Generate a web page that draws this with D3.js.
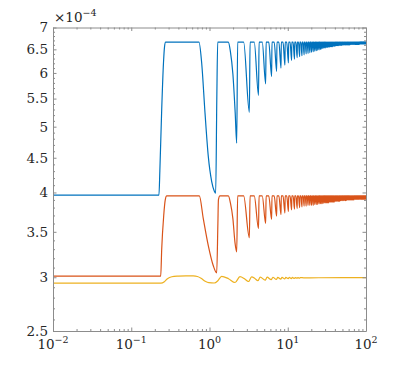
<!DOCTYPE html>
<html>
<head>
<meta charset="utf-8">
<script src="https://cdn.jsdelivr.net/npm/d3@7"></script>
<style>
  body { margin: 0; background: #fff; }
  svg text { font-family: "DejaVu Serif", "Liberation Serif", serif; }
</style>
</head>
<body>
<svg id="chart" width="405" height="373"></svg>
<script>
"use strict";

// tick labels
const xTicks = [1e-2, 1e-1, 1e0, 1e1, 1e2];
const xTickExp = ["\u22122", "\u22121", "0", "1", "2"];
const yTicks = [2.5, 3, 3.5, 4, 4.5, 5, 5.5, 6, 6.5, 7];
const yTickLabels = ["2.5", "3", "3.5", "4", "4.5", "5", "5.5", "6", "6.5", "7"];

const blueHead = [
  [0.01, 3.965], [0.226, 3.965], [0.232, 4.3], [0.245, 5.3], [0.258, 6.2], [0.266, 6.55], [0.275, 6.66],
  [0.734, 6.66], [0.795, 6.2], [0.876, 5.24], [0.965, 4.52], [1.067, 4.15], [1.15, 4.02], [1.2, 3.99],
  [1.24, 5.5], [1.273, 6.66], [1.739, 6.66], [1.85, 6.45], [1.99, 5.98], [2.13, 5.24], [2.227, 4.73],
  [2.29, 6.66]
];
const orangeHead = [
  [0.01, 3.012], [0.238, 3.012], [0.245, 3.3], [0.26, 3.7], [0.272, 3.9], [0.284, 3.953],
  [0.741, 3.953], [0.833, 3.66], [0.965, 3.34], [1.118, 3.12], [1.236, 3.045],
  [1.28, 3.6], [1.30, 3.9], [1.36, 3.953], [1.74, 3.953], [1.85, 3.86], [1.99, 3.66], [2.12, 3.37],
  [2.227, 3.27], [2.29, 3.953]
];
const yellowLine = [
  [0.01, 2.94], [0.24, 2.94], [0.265, 2.955], [0.29, 2.985], [0.33, 3.005], [0.4, 3.012], [0.5, 3.015],
  [0.62, 3.014], [0.7, 3.008], [0.78, 2.99], [0.88, 2.96], [0.98, 2.945], [1.15, 2.942], [1.28, 2.965],
  [1.43, 3.01], [1.75, 2.985], [2.12, 2.947], [2.45, 3.006], [2.8, 2.985], [3.15, 2.957], [3.45, 3.004],
  [3.8, 2.988], [4.15, 2.965], [4.45, 3.002], [5.15, 2.970], [5.45, 3.001], [6.15, 2.975], [6.45, 3.0],
  [7.15, 2.978], [7.45, 2.999], [8.15, 2.981], [8.45, 2.999], [9.15, 2.983], [9.45, 2.998],
  [10.15, 2.985], [10.45, 2.998], [11.15, 2.987], [11.45, 2.998], [12.15, 2.988], [12.45, 2.997],
  [13.15, 2.990], [13.45, 2.997], [14.15, 2.991], [14.45, 2.997], [16, 2.994], [25, 2.995], [100, 2.997]
];

// later dips (from the third one on): where they sit and how deep they go
const dipX = [
  3.23, 4.23, 5.22, 6.22, 7.21, 8.2, 9.2, 10.2, 11.2, 12.2, 13.2, 14.2, 15.2, 16.2, 17.2, 18.2, 19.2, 20.2,
  21.2, 22.2, 23.2, 24.2, 25.2, 26.2, 27.2, 28.2, 29.2, 30.2, 31.2, 32.2, 33.2, 34.2, 35.2, 36.2, 37.2, 38.2,
  39.2, 40.2, 41.2, 42.2, 43.2, 44.2, 45.2, 46.2, 47.2, 48.2, 49.2, 50.2, 51.2, 52.2, 53.2, 54.2, 55.2, 56.2,
  57.2, 58.2, 59.2, 60.2, 61.2, 62.2, 63.2, 64.2, 65.2, 66.2, 67.2, 68.2, 69.2, 70.2, 71.2, 72.2, 73.2, 74.2,
  75.2, 76.2, 77.2, 78.2, 79.2, 80.2, 81.2, 82.2, 83.2, 84.2, 85.2, 86.2, 87.2, 88.2, 89.2, 90.2, 91.2, 92.2,
  93.2, 94.2, 95.2, 96.2, 97.2, 98.2, 99.2
];
const blueTop = 6.66;
const blueDips = [
  5.25, 5.56, 5.78, 5.93, 6.03, 6.10, 6.16, 6.21, 6.26, 6.29, 6.32, 6.34, 6.36, 6.38, 6.40, 6.41, 6.43, 6.44,
  6.45, 6.46, 6.47, 6.48, 6.49, 6.50, 6.51, 6.52, 6.53, 6.53, 6.54, 6.54, 6.55, 6.55, 6.56, 6.56, 6.56, 6.57,
  6.57, 6.57, 6.58, 6.58, 6.58, 6.58, 6.59, 6.59, 6.59, 6.59, 6.59, 6.60, 6.60, 6.60, 6.60, 6.60, 6.60, 6.60,
  6.60, 6.60, 6.60, 6.60, 6.60, 6.60, 6.61, 6.61, 6.61, 6.61, 6.61, 6.61, 6.61, 6.61, 6.61, 6.61, 6.61, 6.61,
  6.61, 6.61, 6.61, 6.61, 6.61, 6.61, 6.61, 6.61, 6.62, 6.62, 6.62, 6.62, 6.62, 6.62, 6.62, 6.62, 6.62, 6.62,
  6.62, 6.62, 6.62, 6.62, 6.62, 6.62, 6.62
];
const orangeTop = 3.953;
const orangeDips = [
  3.43, 3.54, 3.60, 3.65, 3.69, 3.71, 3.73, 3.75, 3.77, 3.78, 3.79, 3.80, 3.81, 3.82, 3.82, 3.83, 3.83, 3.83,
  3.83, 3.84, 3.84, 3.84, 3.85, 3.85, 3.85, 3.85, 3.86, 3.86, 3.86, 3.86, 3.86, 3.87, 3.87, 3.87, 3.87, 3.87,
  3.87, 3.88, 3.88, 3.88, 3.88, 3.88, 3.88, 3.88, 3.89, 3.89, 3.89, 3.89, 3.89, 3.89, 3.89, 3.89, 3.89, 3.89,
  3.90, 3.90, 3.90, 3.90, 3.90, 3.90, 3.90, 3.90, 3.90, 3.90, 3.90, 3.90, 3.90, 3.90, 3.91, 3.91, 3.91, 3.91,
  3.91, 3.91, 3.91, 3.91, 3.91, 3.91, 3.91, 3.91, 3.91, 3.91, 3.91, 3.91, 3.91, 3.91, 3.91, 3.91, 3.91, 3.91,
  3.91, 3.91, 3.91, 3.91, 3.91, 3.91, 3.91
];

const margin = {top: 27.5, right: 39, bottom: 42, left: 53};
const width = 405 - margin.left - margin.right;
const height = 373 - margin.top - margin.bottom;

const svg = d3.select("#chart");
const g = svg.append("g").attr("transform", "translate(" + margin.left + "," + margin.top + ")");

const x = d3.scaleLog().domain([1e-2, 1e2]).range([0, width]);
const y = d3.scaleLog().domain([2.5, 7]).range([height, 0]);

// minor tick values
const xMinor = [];
xTicks.slice(0, -1).forEach(function(t) {
  [2, 3, 4, 5, 6, 7, 8, 9].forEach(function(m) { xMinor.push(t * m); });
});
const yMinor = d3.range(26, 70).map(function(v) { return v / 10; }).filter(function(v) { return yTicks.indexOf(v) < 0; });

// dip drawn as: plateau, fall to its depth, sharp rise back
function withDips(head, top, dips) {
  const pts = head.slice();
  dipX.forEach(function(d, i) {
    pts.push([d - 0.5, top], [d, dips[i]], [d + 0.07, top]);
  });
  pts.push([100, top]);
  return pts;
}

const series = [
  {color: "#EDB120", pts: yellowLine},
  {color: "#D95319", pts: withDips(orangeHead, orangeTop, orangeDips)},
  {color: "#0072BD", pts: withDips(blueHead, blueTop, blueDips)}
];

g.append("clipPath").attr("id", "clip")
  .append("rect").attr("width", width).attr("height", height);

const line = d3.line()
  .x(function(d) { return x(d[0]); })
  .y(function(d) { return y(d[1]); })
  .curve(d3.curveMonotoneX);

g.append("g").attr("clip-path", "url(#clip)")
  .selectAll("path")
  .data(series)
  .enter().append("path")
  .attr("fill", "none")
  .attr("stroke", function(d) { return d.color; })
  .attr("stroke-width", 1.2)
  .attr("stroke-linejoin", "round")
  .attr("d", function(d) { return line(d.pts); });

// axes, ticks pointing inward on all four sides
const axisColor = "#8c8c8c";
function styleAxis(sel) {
  sel.selectAll("path, line").attr("stroke", axisColor);
  sel.selectAll("text").remove();
}

g.append("g").attr("transform", "translate(0," + height + ")")
  .call(d3.axisBottom(x).tickValues(xTicks).tickSize(-3.5).tickSizeOuter(0)).call(styleAxis);
g.append("g").attr("transform", "translate(0," + height + ")")
  .call(d3.axisBottom(x).tickValues(xMinor).tickSize(-2)).call(styleAxis)
  .select(".domain").remove();
g.append("g")
  .call(d3.axisTop(x).tickValues(xTicks).tickSize(-3.5).tickSizeOuter(0)).call(styleAxis);
g.append("g")
  .call(d3.axisTop(x).tickValues(xMinor).tickSize(-2)).call(styleAxis)
  .select(".domain").remove();
g.append("g")
  .call(d3.axisLeft(y).tickValues(yTicks).tickSize(-3.5).tickSizeOuter(0)).call(styleAxis);
g.append("g")
  .call(d3.axisLeft(y).tickValues(yMinor).tickSize(-2)).call(styleAxis)
  .select(".domain").remove();
g.append("g").attr("transform", "translate(" + width + ",0)")
  .call(d3.axisRight(y).tickValues(yTicks).tickSize(-3.5).tickSizeOuter(0)).call(styleAxis);
g.append("g").attr("transform", "translate(" + width + ",0)")
  .call(d3.axisRight(y).tickValues(yMinor).tickSize(-2)).call(styleAxis)
  .select(".domain").remove();

// tick labels
g.selectAll(".ylab")
  .data(yTicks)
  .enter().append("text")
  .attr("class", "ylab")
  .attr("x", -5)
  .attr("y", function(d) { return y(d); })
  .attr("dy", "0.36em")
  .attr("text-anchor", "end")
  .attr("fill", "#262626")
  .style("font-size", "13.5px")
  .text(function(d, i) { return yTickLabels[i]; });

const xl = g.selectAll(".xlab")
  .data(xTicks)
  .enter().append("text")
  .attr("class", "xlab")
  .attr("x", function(d) { return x(d); })
  .attr("y", height + 18)
  .attr("text-anchor", "middle")
  .attr("fill", "#262626")
  .style("font-size", "13.5px");
xl.append("tspan").text("10");
xl.append("tspan")
  .attr("dy", -6)
  .style("font-size", "9.5px")
  .text(function(d, i) { return xTickExp[i]; });

// exponent multiplier above the y axis
const mult = g.append("text")
  .attr("x", 1)
  .attr("y", -5.5)
  .attr("fill", "#262626")
  .style("font-size", "13.5px");
mult.append("tspan").text("\u00d710");
mult.append("tspan").attr("dy", -6).style("font-size", "9.5px").text("\u22124");
</script>
</body>
</html>
